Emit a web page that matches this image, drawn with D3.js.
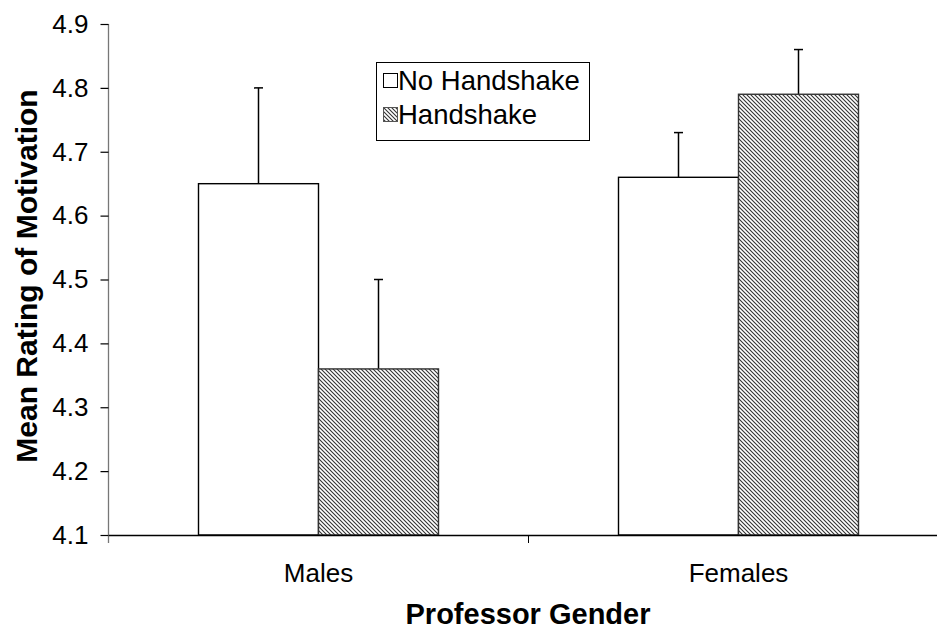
<!DOCTYPE html>
<html><head><meta charset="utf-8">
<script src="https://cdn.jsdelivr.net/npm/d3@7"></script>
<style>body{margin:0;background:#fff;} svg{display:block;font-family:"Liberation Sans",Arial,sans-serif;}</style>
</head><body>
<svg id="c" width="937" height="631"></svg>
<script>
const categories = ["Males", "Females"];
const seriesNames = ["No Handshake", "Handshake"];
const noHandshake = [4.65, 4.66];
const handshake = [4.36, 4.79];
const noHandshakeErr = [0.15, 0.07];
const handshakeErr = [0.14, 0.07];
const yTicks = [4.1, 4.2, 4.3, 4.4, 4.5, 4.6, 4.7, 4.8, 4.9];

(function(){
const svg = d3.select("#c");
const defs = svg.append("defs");
const pat = defs.append("pattern").attr("id","hatch").attr("patternUnits","userSpaceOnUse")
  .attr("width",4).attr("height",4);
pat.append("rect").attr("width",4).attr("height",4).attr("fill","#fff");
pat.append("path").attr("d","M-1,-1 L5,5 M-1,3 L1,5 M3,-1 L5,1").attr("stroke","#333").attr("stroke-width",1.1);

const mL = 108.5, mR = 948.5, mT = 24, mB = 535;
const y = d3.scaleLinear().domain([4.1, 4.9]).range([mB, mT]);
const x0 = d3.scaleBand().domain(categories).range([mL, mR]).paddingInner(0).paddingOuter(0);
const x1 = d3.scaleBand().domain(seriesNames).range([0, x0.bandwidth()]).paddingInner(0).paddingOuter(0.75);

const data = categories.map((c,i)=>[
  {cat:c, s:seriesNames[0], v:noHandshake[i], e:noHandshakeErr[i]},
  {cat:c, s:seriesNames[1], v:handshake[i], e:handshakeErr[i]}
]).flat();

const eg = svg.append("g");
data.forEach(d=>{
  const cx = x0(d.cat)+x1(d.s)+x1.bandwidth()/2;
  eg.append("line").attr("x1",cx).attr("x2",cx).attr("y1",y(d.v)).attr("y2",y(d.v+d.e)).attr("stroke","#000").attr("stroke-width",1.5);
  eg.append("line").attr("x1",cx-4.5).attr("x2",cx+4.5).attr("y1",y(d.v+d.e)).attr("y2",y(d.v+d.e)).attr("stroke","#000").attr("stroke-width",1.5);
});

svg.append("g").selectAll("rect").data(data).join("rect")
  .attr("x",d=>x0(d.cat)+x1(d.s))
  .attr("y",d=>y(d.v))
  .attr("width",x1.bandwidth())
  .attr("height",d=>y(4.1)-y(d.v))
  .attr("fill",d=>d.s===seriesNames[0]?"#fff":"url(#hatch)")
  .attr("stroke",d=>d.s===seriesNames[0]?"#000":"#333")
  .attr("stroke-width",1.4);

const ya = svg.append("g").attr("transform",`translate(${mL},0)`)
  .call(d3.axisLeft(y).tickValues(yTicks).tickFormat(d3.format(".1f")).tickSizeOuter(0).tickSize(8).tickPadding(12));
ya.select(".domain").attr("stroke","#777").attr("stroke-width",1.3).attr("d",`M0,${mT}V${mB+8}`);
ya.selectAll(".tick line").attr("stroke","#000").attr("stroke-width",1.2);
ya.selectAll(".tick text").attr("font-size",26).attr("fill","#000").attr("font-family","Liberation Sans, Arial, sans-serif");

const xa = svg.append("g").attr("transform",`translate(0,${mB})`)
  .call(d3.axisBottom(x0).tickSize(0).tickPadding(29).tickSizeOuter(0));
xa.select(".domain").attr("stroke","#000").attr("stroke-width",1.3);
xa.selectAll(".tick text").attr("font-size",26).attr("fill","#000").attr("font-family","Liberation Sans, Arial, sans-serif");
svg.append("g").selectAll("line").data(categories.slice(1)).join("line")
  .attr("x1",d=>x0(d)).attr("x2",d=>x0(d)).attr("y1",mB).attr("y2",mB+8).attr("stroke","#000").attr("stroke-width",1);

svg.append("text").attr("x",528).attr("y",624).attr("text-anchor","middle")
  .attr("font-size",29).attr("font-weight","bold").text("Professor Gender");
svg.append("text").attr("transform","translate(37,276) rotate(-90)").attr("text-anchor","middle")
  .attr("font-size",30).attr("font-weight","bold").text("Mean Rating of Motivation");

const lg = svg.append("g");
lg.append("rect").attr("x",376.5).attr("y",62.5).attr("width",213).attr("height",78).attr("fill","#fff").attr("stroke","#000").attr("stroke-width",1);
seriesNames.forEach((s,i)=>{
  const yy = 81 + i*34;
  lg.append("rect").attr("x",383.5).attr("y",yy-7.5).attr("width",14).attr("height",14)
    .attr("fill",i===0?"#fff":"url(#hatch)").attr("stroke",i===0?"#000":"#555").attr("stroke-width",1);
  lg.append("text").attr("x",398).attr("y",yy+9).attr("font-size",27.5).text(s);
});
})();
</script>
</body></html>
